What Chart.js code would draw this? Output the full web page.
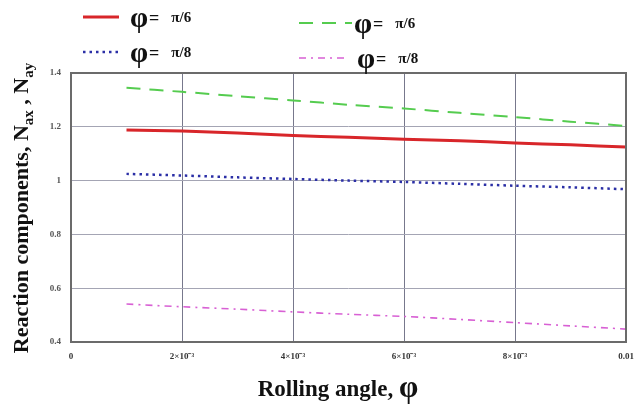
<!DOCTYPE html>
<html>
<head>
<meta charset="utf-8">
<script src="https://cdn.jsdelivr.net/npm/chart.js@4.4.0/dist/chart.umd.min.js"></script>
<style>
  body { margin: 0; background: #fff; }
  #wrap { width: 637px; height: 412px; }
</style>
</head>
<body>
<div id="wrap"><canvas id="reactionChart" width="637" height="412"></canvas></div>
<script>
// rolling angle (rad) sampled from 1e-3 to 1e-2
const rollingAngle = [0.001, 0.002, 0.003, 0.004, 0.005, 0.006, 0.007, 0.008, 0.009, 0.010];

const naxPi6 = [1.188, 1.184, 1.177, 1.168, 1.161, 1.154, 1.148, 1.140, 1.133, 1.125];
const nayPi6 = [1.345, 1.330, 1.314, 1.298, 1.282, 1.268, 1.252, 1.236, 1.219, 1.203];
const naxPi8 = [1.025, 1.019, 1.012, 1.006, 1.000, 0.995, 0.988, 0.981, 0.975, 0.968];
const nayPi8 = [0.541, 0.531, 0.522, 0.512, 0.503, 0.495, 0.484, 0.472, 0.460, 0.448];

const xTickValues = [0, 0.002, 0.004, 0.006, 0.008, 0.01];
const xTickLabels = ['0', '2×10⁻³', '4×10⁻³', '6×10⁻³', '8×10⁻³', '0.01'];

const legendLabels = ['π/6', 'π/8', 'π/6', 'π/8'];

const serif = "'Liberation Serif', 'Times New Roman', serif";

function toPoints(ys) {
    return ys.map((y, i) => ({ x: rollingAngle[i], y: y }));
}

// frame, axis titles with subscripts and the two-column legend
const decorPlugin = {
    id: 'decor',
    afterDraw(chart) {
        const ctx = chart.ctx;
        const a = chart.chartArea;
        ctx.save();

        // plot frame
        ctx.strokeStyle = '#6b6b6b';
        ctx.lineWidth = 2;
        ctx.strokeRect(a.left, a.top, a.right - a.left, a.bottom - a.top);

        // y title, rotated, with subscripts
        const parts = [
            ['Reaction components, N', 22, 0],
            ['ax', 15, 5],
            [' , N', 22, 0],
            ['ay', 15, 5]
        ];
        ctx.fillStyle = '#111';
        ctx.textBaseline = 'alphabetic';
        let total = 0;
        parts.forEach(p => { ctx.font = 'bold ' + p[1] + 'px ' + serif; total += ctx.measureText(p[0]).width; });
        ctx.translate(28, 208);
        ctx.rotate(-Math.PI / 2);
        let px = -total / 2;
        parts.forEach(p => {
            ctx.font = 'bold ' + p[1] + 'px ' + serif;
            ctx.fillText(p[0], px, p[2]);
            px += ctx.measureText(p[0]).width;
        });
        ctx.setTransform(1, 0, 0, 1, 0, 0);

        // x title
        ctx.font = 'bold 23px ' + serif;
        const t1 = 'Rolling angle, ';
        const w1 = ctx.measureText(t1).width;
        ctx.font = 'bold 31px ' + serif;
        const w2 = ctx.measureText('φ').width;
        let tx = 338 - (w1 + w2) / 2;
        ctx.font = 'bold 23px ' + serif;
        ctx.fillText(t1, tx, 396);
        ctx.font = 'bold 31px ' + serif;
        ctx.fillText('φ', tx + w1, 397);

        // legend
        const slots = [
            { x0: 83, x1: 119, y: 17, tx: 130 },
            { x0: 83, x1: 119, y: 52, tx: 130 },
            { x0: 299, x1: 352, y: 23, tx: 354 },
            { x0: 299, x1: 346, y: 58, tx: 357 }
        ];
        chart.data.datasets.forEach((ds, i) => {
            const s = slots[i];
            ctx.beginPath();
            ctx.strokeStyle = ds.borderColor;
            ctx.lineWidth = ds.borderWidth;
            ctx.setLineDash(ds.borderDash || []);
            ctx.moveTo(s.x0, s.y);
            ctx.lineTo(s.x1, s.y);
            ctx.stroke();
            ctx.setLineDash([]);

            ctx.fillStyle = '#111';
            ctx.font = 'bold 29px ' + serif;
            ctx.fillText('φ', s.tx, s.y + 10);
            const wp = ctx.measureText('φ').width;
            ctx.font = 'bold 18px ' + serif;
            ctx.fillText('=', s.tx + wp + 1, s.y + 7);
            const we = ctx.measureText('=').width;
            ctx.font = 'bold 15px ' + serif;
            ctx.fillText(legendLabels[i], s.tx + wp + we + 13, s.y + 5);
        });

        ctx.restore();
    }
};

const ctx = document.getElementById('reactionChart').getContext('2d');

new Chart(ctx, {
    type: 'line',
    data: {
        datasets: [
            {
                label: 'Nax, φ = π/6',
                data: toPoints(naxPi6),
                borderColor: '#d8262a',
                borderWidth: 3,
                pointRadius: 0,
                tension: 0.3
            },
            {
                label: 'Nax, φ = π/8',
                data: toPoints(naxPi8),
                borderColor: '#2b2fa6',
                borderWidth: 2.5,
                borderDash: [2.5, 4],
                pointRadius: 0,
                tension: 0.3
            },
            {
                label: 'Nay, φ = π/6',
                data: toPoints(nayPi6),
                borderColor: '#55cc4f',
                borderWidth: 2,
                borderDash: [14, 9],
                pointRadius: 0,
                tension: 0.3
            },
            {
                label: 'Nay, φ = π/8',
                data: toPoints(nayPi8),
                borderColor: '#d860d4',
                borderWidth: 1.6,
                borderDash: [7, 5, 2, 5],
                pointRadius: 0,
                tension: 0.3
            }
        ]
    },
    options: {
        responsive: false,
        animation: false,
        layout: {
            padding: { left: 40, top: 73, right: 11, bottom: 0 }
        },
        plugins: {
            legend: { display: false },
            tooltip: { enabled: false }
        },
        scales: {
            x: {
                type: 'linear',
                min: 0,
                max: 0.01,
                afterFit: scale => {
                    scale.height = 70;
                    // the edge labels may hang into the page margin
                    scale.paddingLeft = 0;
                    scale.paddingRight = 0;
                },
                afterBuildTicks: scale => {
                    scale.ticks = xTickValues.map(v => ({ value: v }));
                },
                grid: {
                    color: '#77788c',
                    lineWidth: 1,
                    drawTicks: false
                },
                border: { display: false },
                ticks: {
                    padding: 9,
                    maxRotation: 0,
                    autoSkip: false,
                    color: '#333',
                    font: { family: serif, size: 9, weight: 'bold' },
                    callback: function (value) {
                        const i = xTickValues.findIndex(v => Math.abs(v - value) < 1e-9);
                        return i >= 0 ? xTickLabels[i] : '';
                    }
                }
            },
            y: {
                min: 0.4,
                max: 1.4,
                afterFit: scale => { scale.width = 31; },
                grid: {
                    color: '#a4a5b4',
                    lineWidth: 1,
                    drawTicks: false
                },
                border: { display: false },
                ticks: {
                    stepSize: 0.2,
                    padding: 10,
                    color: '#555',
                    font: { family: serif, size: 9, weight: 'bold' },
                    callback: value => String(Number(value.toFixed(1)))
                }
            }
        }
    },
    plugins: [decorPlugin]
});
</script>
</body>
</html>
